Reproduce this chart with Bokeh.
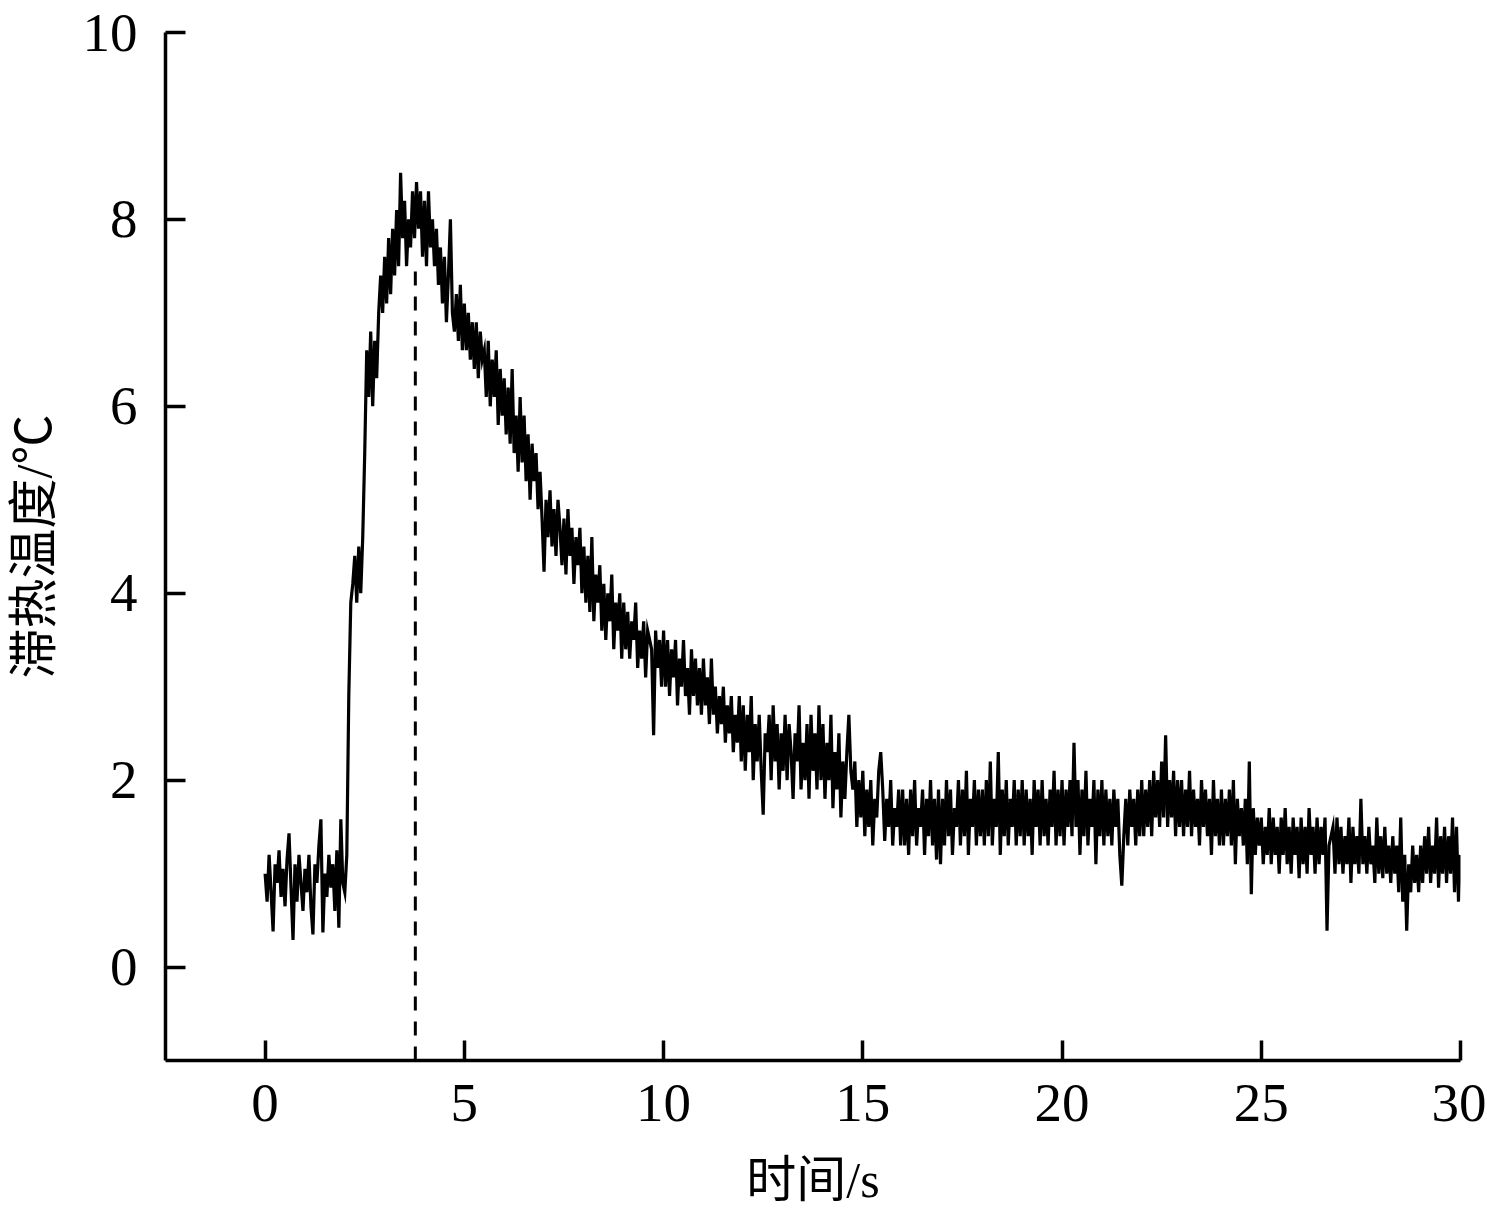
import numpy as np
from bokeh.plotting import figure
from bokeh.models import Range1d, FixedTicker
from bokeh.embed import file_html
from bokeh.resources import INLINE

# Sampling of the recorded trace
t_start = 0.0
dt = 0.05

# Temperature readings (°C), one per sample
temp = [
    # 0.00 - 0.95
    1.0, 0.7, 1.2, 0.8, 0.38, 1.1, 0.9, 1.25, 0.75, 1.05, 0.65, 1.15, 1.43, 0.85, 0.29, 1.1, 0.7, 1.2, 0.9, 0.6,
    # 1.00 - 1.95
    1.05, 0.8, 1.2, 0.65, 0.35, 1.1, 0.9, 1.3, 1.58, 0.37, 1.0, 0.75, 1.2, 0.85, 1.1, 0.6, 1.25, 0.42, 1.58, 0.9,
    # 2.00 - 2.95
    0.8, 1.2, 2.9, 3.9, 4.1, 4.4, 3.9, 4.5, 4.0, 4.6, 5.5, 6.6, 6.1, 6.8, 6.0, 6.7, 6.3, 7.0, 7.4, 7.0,
    # 3.00 - 3.95
    7.6, 7.1, 7.8, 7.2, 7.9, 7.4, 8.1, 7.5, 8.5, 7.8, 8.2, 7.5, 8.0, 7.7, 8.3, 7.8, 8.4, 7.9, 8.3, 7.6,
    # 4.00 - 4.95
    8.2, 7.5, 8.3, 7.7, 8.0, 7.5, 7.9, 7.3, 7.7, 7.1, 7.6, 6.9, 7.4, 8.0, 7.0, 6.8, 7.2, 6.7, 7.3, 6.6,
    # 5.00 - 5.95
    7.1, 6.6, 7.0, 6.5, 6.9, 6.4, 6.9, 6.3, 6.8, 6.5, 6.6, 6.1, 6.7, 6.0, 6.5, 6.1, 6.6, 5.8, 6.4, 5.9,
    # 6.00 - 6.95
    6.3, 5.7, 6.2, 5.6, 6.4, 5.5, 5.9, 5.3, 6.1, 5.4, 5.9, 5.2, 5.7, 5.0, 5.6, 5.2, 5.5, 4.9, 5.3, 4.8,
    # 7.00 - 7.95
    4.23, 5.0, 4.6, 5.1, 4.5, 4.9, 4.4, 5.0, 4.7, 4.3, 4.8, 4.2, 4.9, 4.4, 4.7, 4.1, 4.6, 4.3, 4.7, 4.0,
    # 8.00 - 8.95
    4.5, 3.9, 4.4, 3.8, 4.6, 3.7, 4.2, 3.9, 4.3, 3.6, 4.1, 3.5, 4.0, 3.7, 4.2, 3.4, 3.9, 3.6, 4.0, 3.3,
    # 9.00 - 9.95
    3.9, 3.4, 3.8, 3.3, 3.7, 3.5, 3.9, 3.2, 3.6, 3.3, 3.7, 3.1, 3.6, 3.5, 3.4, 2.48, 3.6, 3.2, 3.5, 3.0,
    # 10.00 - 10.95
    3.6, 3.0, 3.5, 2.9, 3.4, 3.1, 3.5, 2.8, 3.3, 3.0, 3.5, 2.9, 3.2, 2.7, 3.4, 2.9, 3.3, 2.8, 3.2, 2.7,
    # 11.00 - 11.95
    3.3, 2.8, 3.1, 2.6, 3.3, 2.7, 3.0, 2.5, 2.9, 2.6, 3.0, 2.4, 2.8, 2.5, 2.9, 2.3, 2.7, 2.4, 2.9, 2.2,
    # 12.00 - 12.95
    2.8, 2.1, 2.7, 2.3, 2.9, 2.0, 2.6, 2.2, 2.7, 2.1, 1.63, 2.5, 2.3, 2.7, 2.0, 2.8, 2.2, 2.6, 1.9, 2.5,
    # 13.00 - 13.95
    2.1, 2.7, 2.0, 2.6, 2.3, 1.8, 2.5, 2.2, 2.8, 1.9, 2.4, 2.0, 2.6, 1.8, 2.7, 2.1, 2.5, 1.9, 2.8, 2.0,
    # 14.00 - 14.95
    2.6, 1.8, 2.4, 2.0, 2.7, 1.7, 2.3, 1.9, 2.5, 1.6, 2.2, 1.8, 2.3, 2.7, 2.1, 1.9, 2.2, 1.5, 2.0, 1.6,
    # 15.00 - 15.95
    2.1, 1.4, 1.9, 1.5, 2.0, 1.3, 1.8, 1.6, 2.1, 2.3, 1.9, 1.35, 1.8, 1.5, 2.0, 1.3, 1.7, 1.5, 1.9, 1.3,
    # 16.00 - 16.95
    1.9, 1.3, 1.8, 1.2, 1.9, 1.4, 2.0, 1.3, 1.7, 1.5, 1.9, 1.2, 1.8, 1.4, 2.0, 1.3, 1.8, 1.15, 1.9, 1.1,
    # 17.00 - 17.95
    1.8, 1.3, 2.0, 1.4, 1.9, 1.2, 1.7, 1.5, 2.0, 1.3, 1.9, 1.4, 2.1, 1.2, 1.8, 1.5, 2.0, 1.3, 1.9, 1.4,
    # 18.00 - 18.95
    1.9, 1.3, 2.0, 1.4, 2.2, 1.3, 1.8, 1.5, 2.3, 1.2, 1.9, 1.4, 2.0, 1.3, 1.8, 1.5, 2.0, 1.3, 1.9, 1.4,
    # 19.00 - 19.95
    2.0, 1.3, 1.9, 1.4, 1.8, 1.2, 2.0, 1.5, 1.9, 1.3, 2.0, 1.4, 1.8, 1.3, 1.9, 1.5, 2.1, 1.3, 1.9, 1.4,
    # 20.00 - 20.95
    2.0, 1.3, 1.9, 1.5, 2.0, 1.4, 2.4, 1.5, 2.0, 1.2, 1.9, 1.4, 2.1, 1.3, 1.8, 1.5, 2.0, 1.1, 1.9, 1.4,
    # 21.00 - 21.95
    2.0, 1.3, 1.9, 1.4, 1.8, 1.3, 1.9, 1.5, 1.8, 1.2, 0.87, 1.4, 1.8, 1.3, 1.9, 1.5, 1.8, 1.3, 1.9, 1.4,
    # 22.00 - 22.95
    2.0, 1.4, 1.9, 1.5, 2.0, 1.4, 2.1, 1.6, 2.0, 1.5, 2.2, 1.6, 2.48, 1.5, 2.0, 1.6, 2.1, 1.4, 2.0, 1.5,
    # 23.00 - 23.95
    2.0, 1.4, 1.9, 1.5, 2.1, 1.4, 1.9, 1.5, 1.8, 1.3, 2.0, 1.5, 1.9, 1.4, 1.8, 1.2, 2.0, 1.4, 1.8, 1.3,
    # 24.00 - 24.95
    1.9, 1.3, 1.8, 1.4, 1.9, 1.3, 2.0, 1.1, 1.8, 1.4, 1.7, 1.3, 1.8, 1.1, 2.2, 0.78, 1.7, 1.2, 1.6, 1.3,
    # 25.00 - 25.95
    1.6, 1.1, 1.5, 1.2, 1.7, 1.1, 1.6, 1.2, 1.5, 1.0, 1.6, 1.2, 1.7, 1.1, 1.5, 1.0, 1.6, 1.2, 1.5, 0.95,
    # 26.00 - 26.95
    1.6, 1.1, 1.5, 1.0, 1.7, 1.2, 1.5, 1.0, 1.6, 1.1, 1.5, 1.2, 1.6, 0.39, 1.3, 1.4, 1.5, 1.0, 1.6, 1.1,
    # 27.00 - 27.95
    1.5, 1.0, 1.4, 1.1, 1.6, 0.9, 1.5, 1.1, 1.4, 1.0, 1.8, 1.1, 1.4, 1.0, 1.5, 1.1, 1.3, 0.9, 1.6, 1.0,
    # 28.00 - 28.95
    1.4, 0.95, 1.5, 1.0, 1.3, 0.9, 1.4, 1.0, 1.3, 0.8, 1.6, 0.7, 1.2, 0.39, 1.1, 0.8, 1.3, 0.9, 1.2, 0.8,
    # 29.00 - 30.00
    1.3, 0.9, 1.4, 1.0, 1.5, 0.9, 1.3, 1.0, 1.6, 0.85, 1.4, 1.0, 1.5, 0.9, 1.4, 1.0, 1.6, 0.8, 1.5, 0.7, 1.2,
]

time = [round(t_start + i * dt, 2) for i in range(len(temp))]

# Marked time of peak (dashed line) and its top
peak_time = 3.77
marker_bottom = -1.0
marker_top = 7.5

x_ticks = [0, 5, 10, 15, 20, 25, 30]
y_ticks = [0, 2, 4, 6, 8, 10]
x_title = "时间/s"
y_title = "滞热温度/℃"

serif = "'Liberation Serif', 'Noto Sans CJK SC'"

p = figure(width=1486, height=1213, output_backend="svg", toolbar_location=None,
           x_range=Range1d(-2.5, 30), y_range=Range1d(-1, 10),
           min_border_left=165, min_border_right=26, min_border_top=32, min_border_bottom=153)
p.outline_line_color = None
p.xgrid.visible = False
p.ygrid.visible = False
p.background_fill_color = "white"
p.border_fill_color = "white"

p.line(time, temp, line_color="black", line_width=3.2, line_join="miter")
p.segment(x0=[peak_time], y0=[marker_bottom], x1=[peak_time], y1=[marker_top],
          line_color="black", line_width=3, line_dash="14 11")

for ax, ticks in ((p.xaxis[0], x_ticks), (p.yaxis[0], y_ticks)):
    ax.ticker = FixedTicker(ticks=ticks)
    ax.minor_tick_line_color = None
    ax.major_tick_in = 20
    ax.major_tick_out = 0
    ax.major_tick_line_width = 3.5
    ax.axis_line_width = 3.5
    ax.axis_line_color = "black"
    ax.major_tick_line_color = "black"
    ax.major_label_text_font = serif
    ax.major_label_text_font_size = "55px"
    ax.major_label_text_color = "black"
    ax.axis_label_text_font = serif
    ax.axis_label_text_font_size = "50px"
    ax.axis_label_text_font_style = "normal"
    ax.axis_label_text_color = "black"

p.xaxis.axis_label = x_title
p.yaxis.axis_label = y_title
p.xaxis.major_label_standoff = 24
p.yaxis.major_label_standoff = 28
p.xaxis.axis_label_standoff = 28
p.yaxis.axis_label_standoff = 18

open("out.html", "w").write(file_html(p, INLINE))
